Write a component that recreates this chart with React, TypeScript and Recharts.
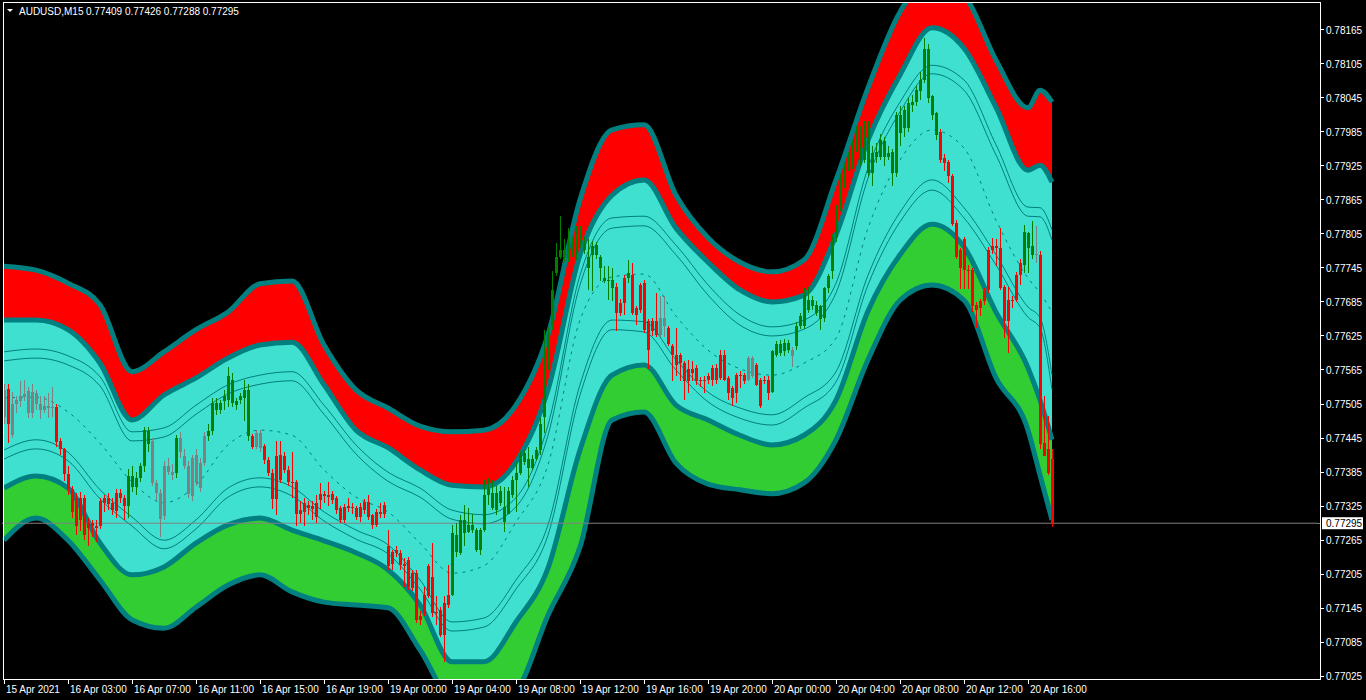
import React from 'react';
import { ComposedChart, Area, Line, Bar, XAxis, YAxis, ReferenceLine } from 'recharts';

// AUDUSD M15 candles, prices in points (1e-5)
const opens = [
  77482, 77532, 77450, 77505, 77510, 77518, 77528, 77490, 77525, 77505,
  77494, 77502, 77498, 77500, 77440, 77425, 77382, 77356, 77340, 77340,
  77340, 77296, 77296, 77290, 77334, 77340, 77340, 77331, 77349, 77349,
  77340, 77325, 77358, 77358, 77375, 77395, 77434, 77440, 77366, 77348,
  77307, 77395, 77386, 77384, 77445, 77413, 77396, 77343, 77366, 77357,
  77401, 77448, 77457, 77495, 77495, 77510, 77513, 77507, 77504, 77513,
  77516, 77530, 77448, 77430, 77454, 77431, 77407, 77384, 77413, 77416,
  77413, 77389, 77368, 77368, 77318, 77330, 77327, 77325, 77330, 77347,
  77346, 77344, 77347, 77339, 77321, 77324, 77325, 77324, 77321, 77324,
  77333, 77333, 77309, 77315, 77315, 77327, 77254, 77245, 77248, 77242,
  77224, 77230, 77207, 77207, 77131, 77169, 77219, 77201, 77139, 77142,
  77154, 77169, 77169, 77245, 77242, 77277, 77280, 77283, 77248, 77248,
  77283, 77345, 77321, 77318, 77330, 77298, 77312, 77345, 77371, 77383,
  77403, 77392, 77392, 77409, 77424, 77483, 77571, 77642, 77736, 77765,
  77765, 77762, 77777, 77777, 77789, 77777, 77765, 77768, 77768, 77765,
  77727, 77724, 77724, 77712, 77683, 77727, 77727, 77733, 77674, 77715,
  77718, 77651, 77651, 77651, 77627, 77657, 77639, 77607, 77592, 77592,
  77577, 77566, 77566, 77569, 77548, 77548, 77554, 77569, 77569, 77592,
  77592, 77551, 77533, 77557, 77557, 77557, 77548, 77586, 77574, 77548,
  77548, 77548, 77527, 77592, 77595, 77598, 77601, 77601, 77607, 77642,
  77642, 77671, 77677, 77665, 77654, 77657, 77709, 77740, 77800, 77853,
  77894, 77924, 77929, 77959, 77935, 77935, 77997, 77912, 77941, 77941,
  77968, 77941, 77950, 77912, 78014, 77991, 77991, 78032, 78038, 78056,
  78076, 78130, 78047, 78017, 77985, 77938, 77932, 77906, 77824, 77777,
  77795, 77742, 77742, 77680, 77686, 77704, 77706, 77783, 77783, 77780,
  77712, 77689, 77689, 77689, 77733, 77750, 77780, 77768, 77768, 77768,
  77437, 77425, 77409,
];
const highs = [
  77540, 77540, 77526, 77520, 77545, 77548, 77535, 77540, 77530, 77520,
  77520, 77525, 77535, 77505, 77445, 77428, 77395, 77360, 77348, 77350,
  77345, 77305, 77300, 77300, 77340, 77345, 77348, 77340, 77356, 77355,
  77345, 77390, 77395, 77385, 77402, 77465, 77465, 77445, 77372, 77355,
  77405, 77410, 77400, 77450, 77455, 77425, 77405, 77415, 77425, 77410,
  77455, 77470, 77515, 77515, 77512, 77530, 77570, 77560, 77515, 77525,
  77547, 77540, 77452, 77460, 77460, 77435, 77412, 77390, 77440, 77440,
  77420, 77395, 77420, 77372, 77335, 77340, 77335, 77335, 77345, 77365,
  77352, 77367, 77352, 77343, 77325, 77328, 77340, 77330, 77326, 77330,
  77338, 77345, 77312, 77320, 77330, 77332, 77283, 77248, 77254, 77248,
  77233, 77236, 77213, 77213, 77140, 77183, 77224, 77260, 77166, 77148,
  77166, 77221, 77292, 77295, 77310, 77327, 77321, 77312, 77286, 77286,
  77371, 77374, 77371, 77360, 77360, 77359, 77359, 77378, 77401, 77420,
  77424, 77430, 77415, 77430, 77480, 77636, 77640, 77739, 77789, 77836,
  77795, 77815, 77800, 77818, 77818, 77800, 77795, 77792, 77790, 77768,
  77748, 77748, 77745, 77718, 77690, 77733, 77759, 77753, 77677, 77718,
  77724, 77654, 77657, 77701, 77695, 77695, 77642, 77610, 77639, 77595,
  77580, 77583, 77580, 77574, 77552, 77554, 77560, 77574, 77575, 77601,
  77600, 77554, 77536, 77560, 77563, 77560, 77589, 77589, 77577, 77551,
  77555, 77554, 77601, 77616, 77618, 77620, 77618, 77605, 77650, 77665,
  77710, 77712, 77695, 77686, 77680, 77712, 77735, 77805, 77855, 77910,
  77930, 77950, 77970, 77995, 77995, 78003, 78003, 77960, 77965, 77980,
  77975, 77960, 77955, 78020, 78030, 78030, 78045, 78050, 78065, 78090,
  78150, 78140, 78050, 78020, 77990, 77945, 77935, 77910, 77830, 77780,
  77800, 77750, 77745, 77685, 77690, 77710, 77782, 77797, 77795, 77815,
  77715, 77712, 77695, 77738, 77760, 77821, 77809, 77827, 77818, 77775,
  77519, 77484, 77426,
];
const lows = [
  77470, 77436, 77445, 77490, 77500, 77510, 77480, 77480, 77495, 77478,
  77490, 77480, 77482, 77430, 77415, 77370, 77345, 77305, 77275, 77282,
  77265, 77255, 77270, 77262, 77285, 77315, 77318, 77310, 77305, 77330,
  77300, 77305, 77350, 77345, 77368, 77385, 77420, 77360, 77335, 77270,
  77300, 77380, 77372, 77375, 77410, 77390, 77340, 77335, 77360, 77350,
  77395, 77440, 77450, 77485, 77488, 77495, 77500, 77500, 77495, 77505,
  77475, 77440, 77425, 77425, 77420, 77400, 77378, 77320, 77310, 77365,
  77383, 77360, 77340, 77290, 77295, 77290, 77310, 77300, 77295, 77320,
  77330, 77325, 77328, 77312, 77295, 77296, 77315, 77312, 77300, 77298,
  77312, 77300, 77285, 77288, 77305, 77305, 77213, 77213, 77236, 77213,
  77183, 77177, 77175, 77119, 77115, 77131, 77163, 77130, 77116, 77095,
  77051, 77145, 77166, 77236, 77239, 77254, 77277, 77277, 77245, 77239,
  77280, 77327, 77318, 77310, 77325, 77280, 77312, 77340, 77315, 77380,
  77398, 77359, 77388, 77405, 77415, 77454, 77565, 77636, 77730, 77760,
  77755, 77755, 77765, 77759, 77780, 77770, 77706, 77704, 77760, 77721,
  77718, 77689, 77686, 77633, 77660, 77662, 77718, 77662, 77645, 77665,
  77630, 77566, 77625, 77624, 77624, 77624, 77607, 77545, 77554, 77545,
  77513, 77525, 77545, 77539, 77535, 77525, 77540, 77536, 77540, 77548,
  77545, 77513, 77501, 77507, 77533, 77540, 77545, 77551, 77536, 77498,
  77540, 77513, 77525, 77588, 77590, 77590, 77595, 77571, 77600, 77638,
  77638, 77665, 77670, 77660, 77635, 77650, 77700, 77725, 77790, 77845,
  77885, 77915, 77920, 77950, 77925, 77930, 77905, 77890, 77930, 77935,
  77925, 77935, 77890, 77905, 77960, 77975, 77985, 78020, 78030, 78040,
  78070, 78035, 78005, 77970, 77930, 77915, 77895, 77818, 77760, 77707,
  77707, 77707, 77668, 77639, 77660, 77680, 77700, 77770, 77748, 77706,
  77621, 77595, 77675, 77685, 77715, 77736, 77736, 77760, 77753, 77425,
  77413, 77380, 77288,
];
const closes = [
  77530, 77470, 77505, 77512, 77520, 77522, 77490, 77526, 77505, 77494,
  77502, 77498, 77500, 77438, 77425, 77382, 77355, 77315, 77290, 77300,
  77275, 77287, 77290, 77287, 77290, 77331, 77328, 77319, 77316, 77340,
  77325, 77378, 77378, 77375, 77395, 77460, 77457, 77366, 77348, 77302,
  77395, 77386, 77380, 77445, 77420, 77396, 77346, 77410, 77416, 77401,
  77448, 77457, 77507, 77507, 77507, 77520, 77554, 77548, 77510, 77519,
  77530, 77448, 77430, 77454, 77428, 77407, 77384, 77337, 77337, 77372,
  77389, 77368, 77365, 77312, 77312, 77315, 77321, 77320, 77306, 77336,
  77343, 77341, 77336, 77318, 77300, 77300, 77322, 77321, 77306, 77306,
  77318, 77306, 77292, 77292, 77312, 77312, 77219, 77224, 77242, 77221,
  77219, 77183, 77180, 77125, 77125, 77136, 77166, 77136, 77136, 77098,
  77098, 77151, 77277, 77274, 77301, 77301, 77292, 77292, 77283, 77283,
  77345, 77356, 77348, 77348, 77351, 77324, 77351, 77371, 77383, 77415,
  77418, 77409, 77409, 77424, 77470, 77571, 77630, 77706, 77765, 77777,
  77777, 77792, 77789, 77812, 77812, 77789, 77745, 77783, 77786, 77745,
  77721, 77721, 77709, 77665, 77665, 77683, 77736, 77665, 77662, 77671,
  77636, 77601, 77633, 77627, 77657, 77642, 77610, 77592, 77574, 77577,
  77545, 77545, 77560, 77545, 77545, 77545, 77548, 77548, 77548, 77551,
  77548, 77525, 77516, 77525, 77554, 77545, 77586, 77554, 77539, 77501,
  77545, 77525, 77598, 77610, 77610, 77613, 77613, 77589, 77642, 77660,
  77701, 77689, 77689, 77680, 77677, 77709, 77730, 77800, 77850, 77900,
  77924, 77941, 77965, 77982, 77985, 77997, 77912, 77947, 77950, 77970,
  77941, 77947, 77912, 78014, 77982, 78023, 78035, 78038, 78059, 78076,
  78130, 78044, 78014, 77979, 77935, 77929, 77906, 77822, 77765, 77745,
  77742, 77739, 77677, 77671, 77674, 77686, 77777, 77777, 77780, 77709,
  77651, 77651, 77686, 77733, 77753, 77809, 77806, 77783, 77770, 77434,
  77413, 77384, 77295,
];
// candle colour per bar: u = green, d = red, n = gray
const tones =
  'ndnnnnnnnn' + 'nnnddddddd' + 'dddddddddd' + 'duuuuuunnn' + 'nnnunnnnnn' +
  'nuuuuuuuuu' + 'uudnnddddd' + 'dddddddddd' + 'dddddddddd' + 'dddddddddd' +
  'dddddddddd' + 'dduuuuuuuu' + 'uuuuuuuuuu' + 'uuuuuuuuuu' + 'uuuuuuuuuu' +
  'uuuddduddd' + 'ddddnndddd' + 'dddddddddd' + 'ddddddnndd' + 'dduuuuunuu' +
  'uuuuuuuuuu' + 'uuuuuuuuuu' + 'uuuuuuuuuu' + 'uuuudddddd' + 'dddddddddd' +
  'ddddduuund' + 'ddd';

const timeLabels = [
  '15 Apr 2021', '16 Apr 03:00', '16 Apr 07:00', '16 Apr 11:00', '16 Apr 15:00',
  '16 Apr 19:00', '19 Apr 00:00', '19 Apr 04:00', '19 Apr 08:00', '19 Apr 12:00',
  '19 Apr 16:00', '19 Apr 20:00', '20 Apr 00:00', '20 Apr 04:00', '20 Apr 08:00',
  '20 Apr 12:00', '20 Apr 16:00',
];

// band indicator, read every 8 bars (bar index)
const bandIdx = [
  0, 8, 16, 24, 32, 40, 48, 56, 64, 72, 80, 88, 96, 104, 112, 120, 128,
  136, 144, 152, 160, 168, 176, 184, 192, 200, 208, 216, 224, 232, 240, 248, 256, 259, 262,
];
const outerTop = [
  77748, 77741, 77718, 77680, 77562, 77597, 77636, 77667, 77717, 77722, 77609, 77530,
  77498, 77466, 77456, 77459, 77503, 77627, 77865, 77988, 77997, 77873, 77798, 77755,
  77738, 77759, 77900, 78062, 78196, 78256, 78226, 78111, 78027, 78058, 78037,
];
const innerTop = [
  77653, 77653, 77636, 77577, 77477, 77521, 77551, 77586, 77609, 77614, 77539, 77459,
  77428, 77389, 77362, 77359, 77403, 77530, 77768, 77873, 77900, 77815, 77755, 77706,
  77685, 77697, 77803, 77970, 78085, 78168, 78132, 78028, 77917, 77926, 77896,
];
const upperA = [
  77597, 77602, 77590, 77553, 77456, 77463, 77503, 77539, 77556, 77562, 77503, 77433,
  77385, 77357, 77318, 77310, 77340, 77468, 77732, 77833, 77836, 77785, 77715, 77662,
  77641, 77653, 77718, 77921, 78037, 78102, 78076, 77962, 77852, 77851, 77812,
];
const upperB = [
  77581, 77586, 77574, 77537, 77440, 77447, 77487, 77523, 77540, 77546, 77487, 77417,
  77369, 77341, 77302, 77294, 77324, 77450, 77715, 77815, 77819, 77768, 77697, 77644,
  77625, 77637, 77701, 77903, 78020, 78087, 78058, 77944, 77836, 77835, 77794,
];
const middle = [
  77516, 77517, 77491, 77436, 77368, 77331, 77362, 77433, 77459, 77450, 77389, 77341,
  77315, 77260, 77207, 77220, 77297, 77398, 77653, 77729, 77734, 77660, 77600, 77567,
  77556, 77577, 77621, 77815, 77935, 77988, 77956, 77829, 77727, 77701, 77667,
];
const lowerC = [
  77424, 77442, 77420, 77354, 77306, 77265, 77301, 77357, 77375, 77359, 77315, 77283,
  77257, 77195, 77121, 77128, 77195, 77292, 77539, 77653, 77650, 77583, 77526, 77498,
  77486, 77516, 77562, 77732, 77843, 77900, 77851, 77768, 77676, 77657, 77556,
];
const lowerD = [
  77408, 77426, 77405, 77338, 77290, 77250, 77285, 77341, 77359, 77343, 77299, 77267,
  77241, 77179, 77105, 77112, 77179, 77274, 77521, 77636, 77632, 77565, 77509, 77480,
  77468, 77498, 77544, 77715, 77826, 77882, 77833, 77750, 77658, 77639, 77530,
];
const innerBottom = [
  77357, 77378, 77357, 77260, 77204, 77218, 77260, 77292, 77304, 77283, 77264, 77243,
  77213, 77151, 77051, 77051, 77121, 77216, 77424, 77556, 77574, 77503, 77477, 77450,
  77433, 77450, 77512, 77669, 77768, 77822, 77782, 77667, 77569, 77512, 77442,
];
const outerBottom = [
  77265, 77304, 77265, 77195, 77125, 77110, 77147, 77186, 77204, 77174, 77156, 77151,
  77146, 77072, 76984, 76975, 77001, 77133, 77253, 77477, 77491, 77401, 77364, 77354,
  77347, 77366, 77442, 77583, 77688, 77715, 77688, 77551, 77459, 77380, 77301,
];

const priceTicks = [
  77025, 77085, 77145, 77205, 77265, 77325, 77385, 77445, 77505, 77565,
  77625, 77685, 77745, 77805, 77865, 77925, 77985, 78045, 78105, 78165,
];

const PT = 100000;
const SLOTS = 329; // bars that fit the window, incl. the empty shift on the right
const FONT = "'Liberation Sans', Arial, sans-serif";
const last = opens.length - 1;
const lastClose = closes[last] / PT;

const rows = Array.from({ length: SLOTS }, (_, i) => {
  const r: any = { i };
  if (i < opens.length) {
    r.o = opens[i] / PT;
    r.h = highs[i] / PT;
    r.l = lows[i] / PT;
    r.c = closes[i] / PT;
    r.t = tones[i];
  }
  const k = bandIdx.indexOf(i);
  if (k >= 0) {
    r.red = [innerTop[k] / PT, outerTop[k] / PT];
    r.cyan = [innerBottom[k] / PT, innerTop[k] / PT];
    r.green = [outerBottom[k] / PT, innerBottom[k] / PT];
    r.l1 = outerTop[k] / PT;
    r.l2 = innerTop[k] / PT;
    r.a = upperA[k] / PT;
    r.b = upperB[k] / PT;
    r.m = middle[k] / PT;
    r.c1 = lowerC[k] / PT;
    r.d1 = lowerD[k] / PT;
    r.l3 = innerBottom[k] / PT;
    r.l4 = outerBottom[k] / PT;
  }
  return r;
});

const toneColor: Record<string, string> = { u: '#008000', d: '#FF0000', n: '#808080' };

function Candle(props: any) {
  const { x, y, width, height, payload } = props;
  if (!payload || payload.h == null || !isFinite(y) || !isFinite(height)) return null;
  const top = Math.min(y, y + height);
  const bot = Math.max(y, y + height);
  const span = payload.h - payload.l;
  const toY = (v: number) => (span === 0 ? top : top + ((payload.h - v) / span) * (bot - top));
  const cx = Math.round(x + width / 2);
  const yo = toY(payload.o);
  const yc = toY(payload.c);
  const bTop = Math.round(Math.min(yo, yc));
  const bBot = Math.max(Math.round(Math.max(yo, yc)), bTop + 1);
  const col = toneColor[payload.t] || '#808080';
  return (
    <g shapeRendering="crispEdges">
      <rect x={cx} y={Math.round(top)} width={1} height={Math.max(1, Math.round(bot) - Math.round(top))} fill={col} />
      <rect x={cx - 1} y={bTop} width={3} height={bBot - bTop} fill={col} />
    </g>
  );
}

function TimeTick(props: any) {
  const { x, y, payload } = props;
  const idx = payload.value / 16;
  const label = Number.isInteger(idx) ? timeLabels[idx] : undefined;
  if (!label) return null;
  return (
    <g>
      <line x1={x} y1={y} x2={x} y2={y + 5} stroke="#fff" shapeRendering="crispEdges" />
      <text x={x + 2} y={y + 14} fill="#fff" fontSize={10} fontFamily={FONT}>{label}</text>
    </g>
  );
}

function PriceTick(props: any) {
  const { x, y, payload } = props;
  const v = payload.value;
  if (Math.abs(v - lastClose) < 1e-9) {
    return (
      <g>
        <rect x={x + 4} y={y - 6} width={41} height={12} fill="#fff" />
        <text x={x + 8} y={y + 4} fill="#000" fontSize={10} fontFamily={FONT}>{v.toFixed(5)}</text>
      </g>
    );
  }
  return (
    <g>
      <line x1={x + 2} y1={y} x2={x + 6} y2={y} stroke="#fff" shapeRendering="crispEdges" />
      <text x={x + 8} y={y + 4} fill="#fff" fontSize={10} fontFamily={FONT}>{v.toFixed(5)}</text>
    </g>
  );
}

export default function App() {
  const yTicks = [...priceTicks.map((p) => p / PT), lastClose].sort((p, q) => p - q);
  return (
    <div style={{ position: 'absolute', left: 0, top: 0, width: 1366, height: 700, background: '#000' }}>
      <ComposedChart width={1366} height={700} data={rows} margin={{ top: 3, right: 0, bottom: 0, left: 2 }}>
        <XAxis
          dataKey="i"
          type="category"
          interval={15}
          height={21}
          axisLine={false}
          tickLine={false}
          tickSize={0}
          tickMargin={0}
          tick={<TimeTick />}
        />
        <YAxis
          orientation="right"
          type="number"
          width={48}
          domain={[0.770205, 0.782117]}
          allowDataOverflow
          ticks={yTicks}
          interval={0}
          axisLine={false}
          tickLine={false}
          tickSize={0}
          tickMargin={0}
          tick={<PriceTick />}
        />
        <Area dataKey="red" type="monotone" fill="#FF0000" fillOpacity={1} stroke="none" connectNulls isAnimationActive={false} />
        <Area dataKey="cyan" type="monotone" fill="#40E0D0" fillOpacity={1} stroke="none" connectNulls isAnimationActive={false} />
        <Area dataKey="green" type="monotone" fill="#32CD32" fillOpacity={1} stroke="none" connectNulls isAnimationActive={false} />
        <Line dataKey="a" type="monotone" stroke="#008080" strokeWidth={1} dot={false} activeDot={false} connectNulls isAnimationActive={false} />
        <Line dataKey="b" type="monotone" stroke="#008080" strokeWidth={1} dot={false} activeDot={false} connectNulls isAnimationActive={false} />
        <Line dataKey="m" type="monotone" stroke="#008080" strokeWidth={1} strokeDasharray="3 5" dot={false} activeDot={false} connectNulls isAnimationActive={false} />
        <Line dataKey="c1" type="monotone" stroke="#008080" strokeWidth={1} dot={false} activeDot={false} connectNulls isAnimationActive={false} />
        <Line dataKey="d1" type="monotone" stroke="#008080" strokeWidth={1} dot={false} activeDot={false} connectNulls isAnimationActive={false} />
        <Line dataKey="l1" type="monotone" stroke="#008080" strokeWidth={5} dot={false} activeDot={false} connectNulls isAnimationActive={false} />
        <Line dataKey="l2" type="monotone" stroke="#008080" strokeWidth={5} dot={false} activeDot={false} connectNulls isAnimationActive={false} />
        <Line dataKey="l3" type="monotone" stroke="#008080" strokeWidth={5} dot={false} activeDot={false} connectNulls isAnimationActive={false} />
        <Line dataKey="l4" type="monotone" stroke="#008080" strokeWidth={5} dot={false} activeDot={false} connectNulls isAnimationActive={false} />
        <ReferenceLine y={lastClose} stroke="#808080" strokeWidth={1} />
        <Bar
          dataKey={(r: any) => (r.h == null ? null : [r.l, r.h])}
          shape={<Candle />}
          isAnimationActive={false}
          zIndex={450}
        />
      </ComposedChart>
      <svg width={1366} height={700} style={{ position: 'absolute', left: 0, top: 0, pointerEvents: 'none' }}>
        <line x1={1318} y1={523.5} x2={1320} y2={523.5} stroke="#808080" />
        <rect x={3.5} y={2.5} width={1317} height={677} fill="none" stroke="#fff" />
        <path d="M7 9 L13 9 L10 12 Z" fill="#fff" />
        <text x={19} y={15} fill="#fff" fontSize={10} fontFamily={FONT}>AUDUSD,M15</text>
        <text x={86} y={15} fill="#fff" fontSize={10} fontFamily={FONT}>
          {[opens[last], highs[last], lows[last], closes[last]].map((v) => (v / PT).toFixed(5)).join(' ')}
        </text>
      </svg>
    </div>
  );
}
